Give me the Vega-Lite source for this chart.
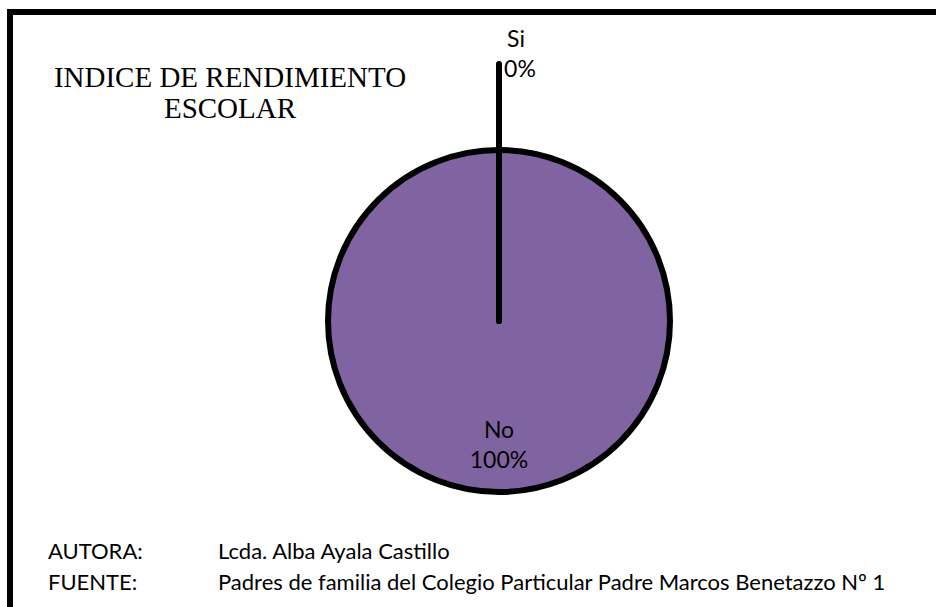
{
  "$schema": "https://vega.github.io/schema/vega-lite/v6.json",
  "width": 978,
  "height": 618,
  "autosize": {"type": "none"},
  "padding": {"left": 10, "top": 12, "right": -52, "bottom": -23},
  "background": "white",
  "config": {"view": {"stroke": "black", "strokeWidth": 6}},
  "title": {
    "text": ["INDICE DE RENDIMIENTO", "ESCOLAR"],
    "orient": "top",
    "anchor": "start",
    "align": "center",
    "baseline": "top",
    "offset": 0,
    "dx": 220,
    "dy": 112,
    "font": "Liberation Serif",
    "fontSize": 29,
    "fontWeight": "normal",
    "color": "black",
    "lineHeight": 31
  },
  "layer": [
    {
      "data": {"values": [
        {"respuesta": "No", "valor": 1},
        {"respuesta": "Si", "valor": 0}
      ]},
      "encoding": {
        "theta": {"field": "valor", "type": "quantitative", "stack": true},
        "order": {"field": "respuesta", "type": "nominal", "sort": "ascending"}
      },
      "layer": [
        {
          "mark": {"type": "arc", "radius": 171, "stroke": "black", "strokeWidth": 6, "strokeJoin": "round"},
          "encoding": {
            "color": {"field": "respuesta", "type": "nominal", "legend": null,
              "scale": {"domain": ["No", "Si"], "range": ["#8064A2", "#4F81BD"]}}
          }
        },
        {
          "mark": {"type": "arc", "radius": 257, "fillOpacity": 0, "stroke": "black", "strokeWidth": 6, "strokeJoin": "round"},
          "encoding": {
            "strokeOpacity": {"condition": {"test": "datum.respuesta === 'Si'", "value": 1}, "value": 0}
          }
        },
        {
          "mark": {"type": "text", "radius": 124.5, "dy": -15, "font": "Lato", "fontSize": 23, "baseline": "middle", "align": "center"},
          "encoding": {
            "text": {"field": "respuesta", "type": "nominal"},
            "color": {"value": "black"},
            "opacity": {"condition": {"test": "datum.respuesta === 'No'", "value": 1}, "value": 0}
          }
        },
        {
          "mark": {"type": "text", "radius": 124.5, "dy": 15, "font": "Lato", "fontSize": 23, "baseline": "middle", "align": "center"},
          "encoding": {
            "text": {"field": "valor", "type": "quantitative", "format": ".0%"},
            "color": {"value": "black"},
            "opacity": {"condition": {"test": "datum.respuesta === 'No'", "value": 1}, "value": 0}
          }
        },
        {
          "mark": {"type": "text", "radius": 266, "dy": -15, "dx": 17, "font": "Lato", "fontSize": 23, "baseline": "middle", "align": "center"},
          "encoding": {
            "text": {"field": "respuesta", "type": "nominal"},
            "color": {"value": "black"},
            "opacity": {"condition": {"test": "datum.respuesta === 'Si'", "value": 1}, "value": 0}
          }
        },
        {
          "mark": {"type": "text", "radius": 266, "dy": 15, "dx": 21, "font": "Lato", "fontSize": 23, "baseline": "middle", "align": "center"},
          "encoding": {
            "text": {"field": "valor", "type": "quantitative", "format": ".0%"},
            "color": {"value": "black"},
            "opacity": {"condition": {"test": "datum.respuesta === 'Si'", "value": 1}, "value": 0}
          }
        }
      ]
    },
    {
      "data": {"values": [
        {"rotulo": "AUTORA:", "texto": "Lcda. Alba Ayala Castillo"},
        {"rotulo": "FUENTE:", "texto": "Padres de familia del Colegio Particular Padre Marcos Benetazzo Nº 1"}
      ]},
      "transform": [{"fold": ["rotulo", "texto"], "as": ["columna", "contenido"]}],
      "mark": {"type": "text", "align": "left", "baseline": "middle", "font": "Lato", "fontSize": 22},
      "encoding": {
        "x": {"field": "columna", "type": "nominal", "axis": null,
          "scale": {"type": "point", "padding": 0, "domain": ["rotulo", "texto"], "range": [38, 208]}},
        "y": {"field": "rotulo", "type": "nominal", "axis": null,
          "scale": {"type": "point", "padding": 0, "domain": ["AUTORA:", "FUENTE:"], "range": [540, 571]}},
        "text": {"field": "contenido", "type": "nominal"},
        "color": {"value": "black"}
      }
    }
  ]
}
